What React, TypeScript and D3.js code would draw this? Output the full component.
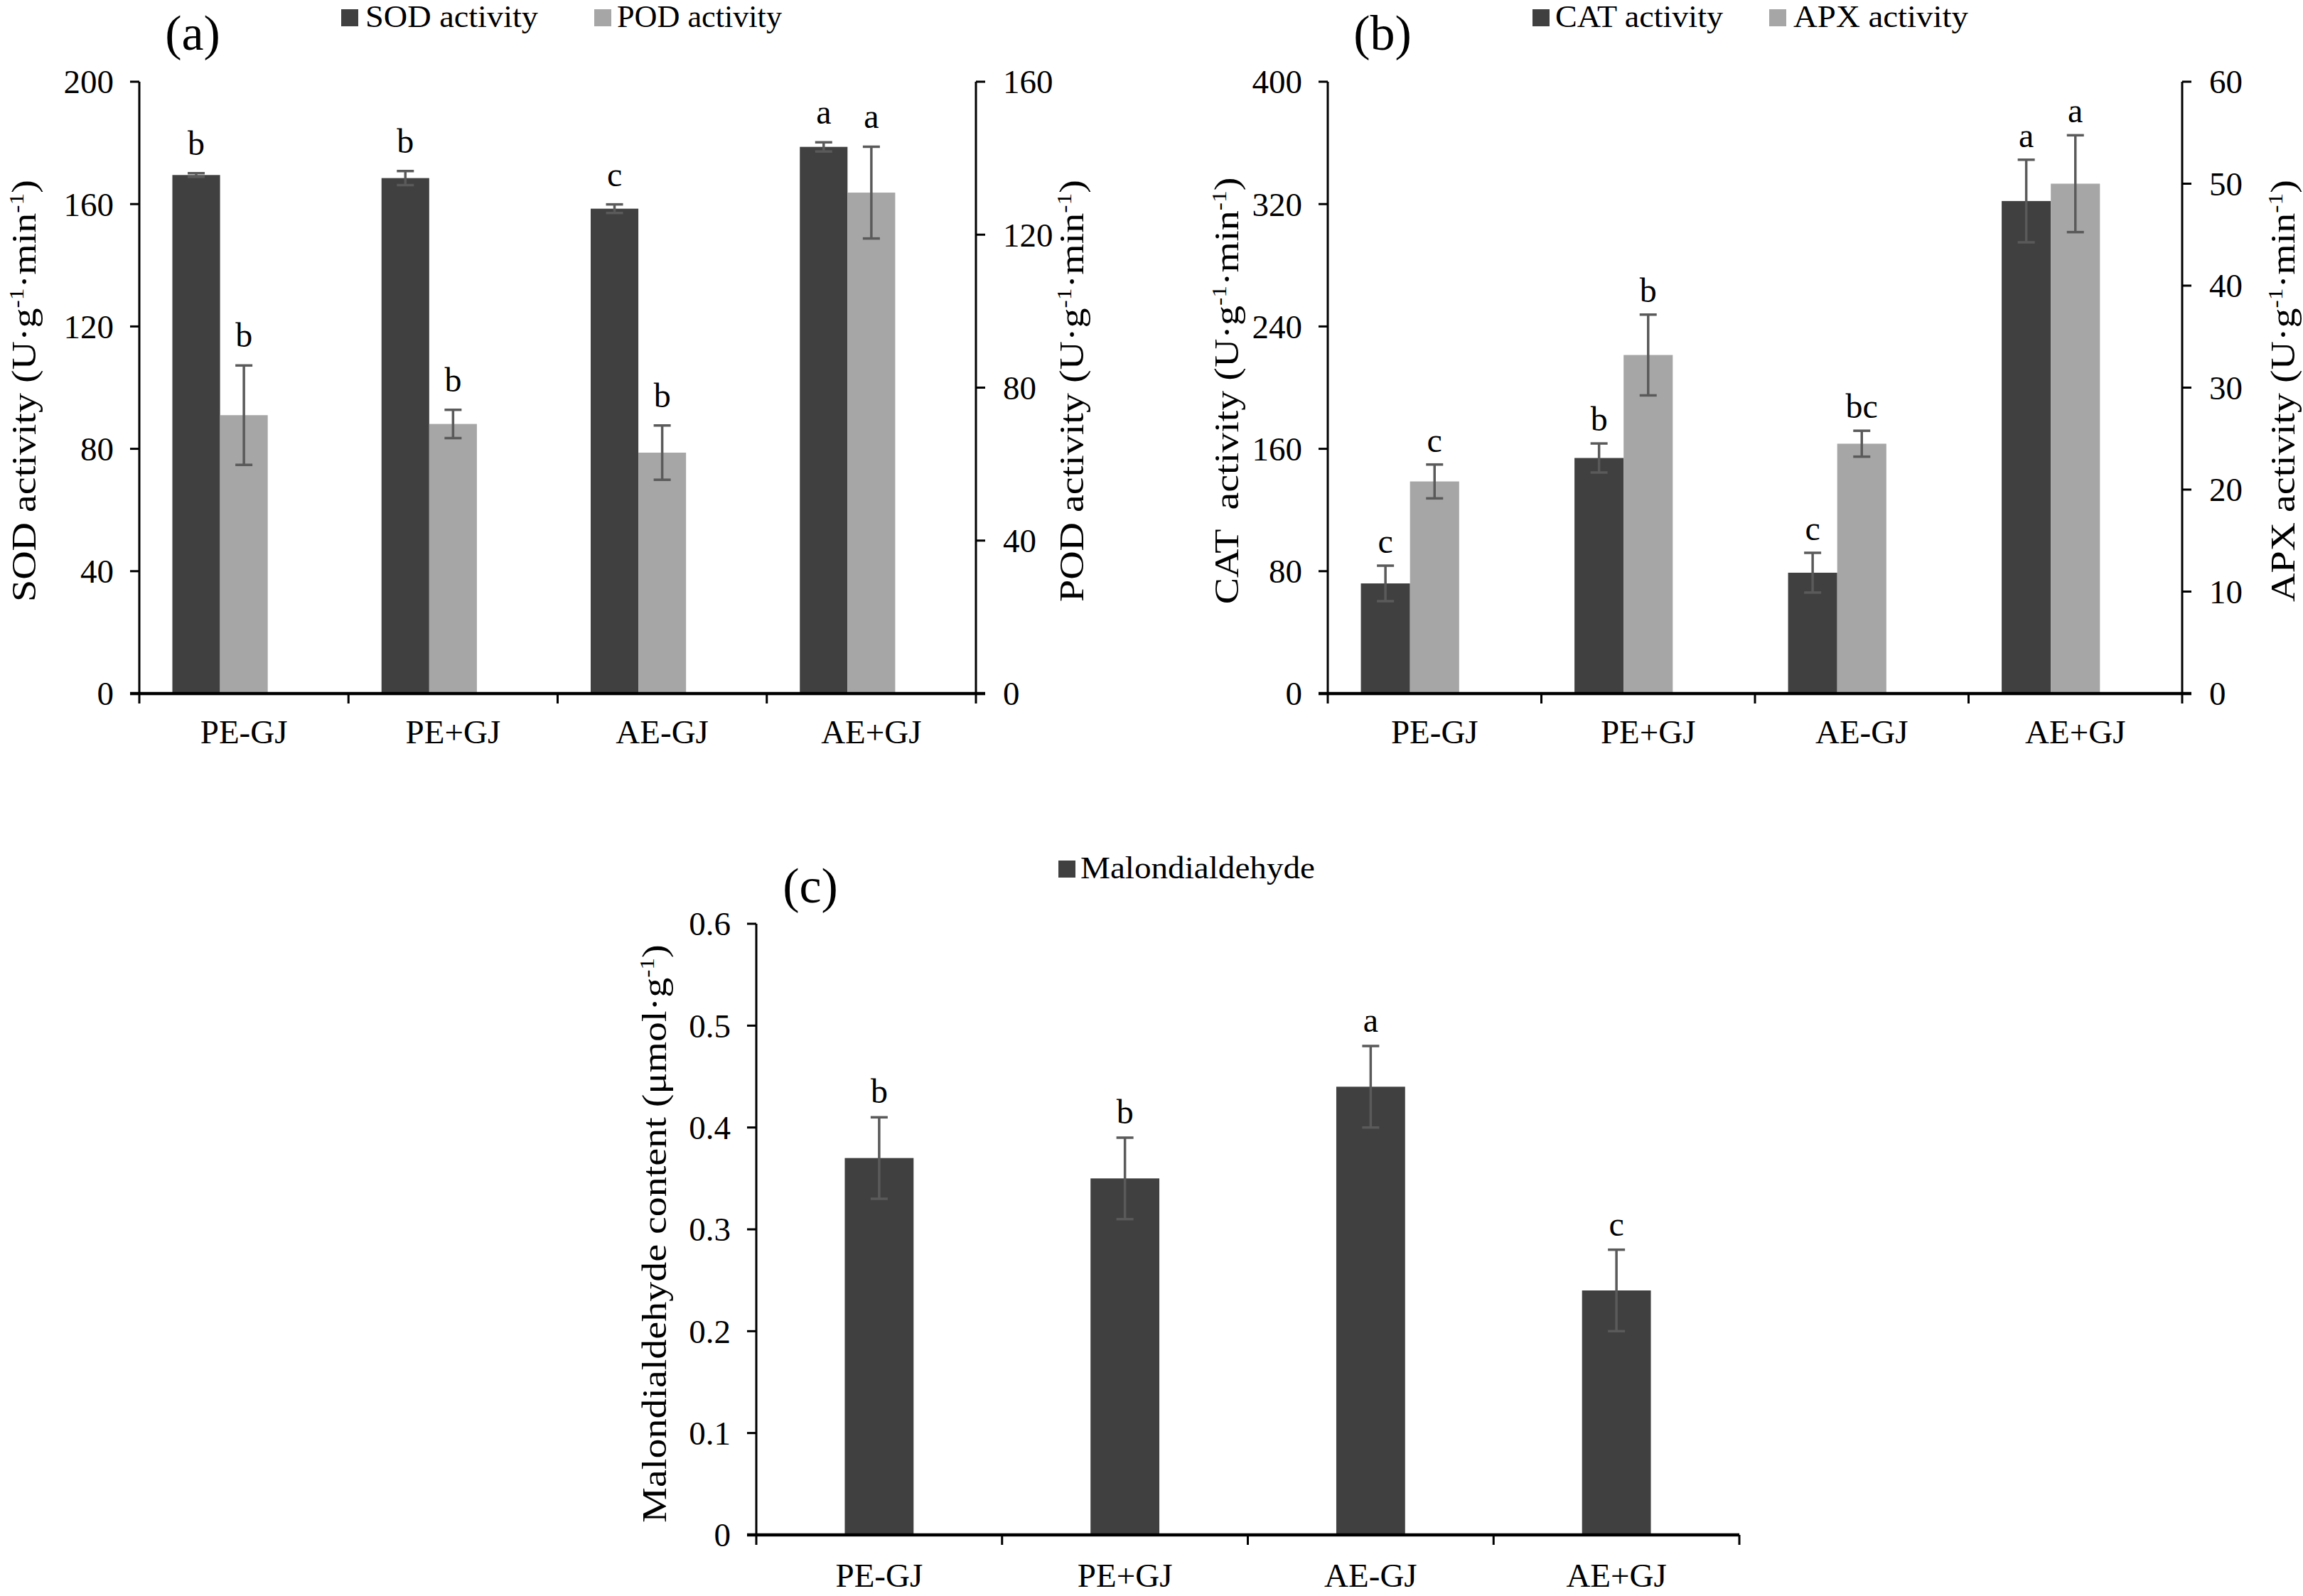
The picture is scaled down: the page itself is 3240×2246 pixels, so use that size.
import React from "react";
import * as d3 from "d3";

// ---------- data ----------
const categories = ["PE-GJ", "PE+GJ", "AE-GJ", "AE+GJ"];

const sodValues = [169.5, 168.5, 158.5, 178.7];
const sodErrors = [0.6, 2.3, 1.4, 1.5];
const sodLetters = ["b", "b", "c", "a"];

const podValues = [72.8, 70.5, 63.0, 131.0];
const podErrors = [13.0, 3.7, 7.1, 12.0];
const podLetters = ["b", "b", "b", "a"];

const catValues = [72, 154, 79, 322];
const catErrors = [11.6, 9.5, 13, 27];
const catLetters = ["c", "b", "c", "a"];

const apxValues = [20.8, 33.2, 24.5, 50.0];
const apxErrors = [1.66, 3.96, 1.27, 4.75];
const apxLetters = ["c", "b", "bc", "a"];

const mdaValues = [0.37, 0.35, 0.44, 0.24];
const mdaErrors = [0.04, 0.04, 0.04, 0.04];
const mdaLetters = ["b", "b", "a", "c"];

const sodTicks = [0, 40, 80, 120, 160, 200];
const podTicks = [0, 40, 80, 120, 160];
const catTicks = [0, 80, 160, 240, 320, 400];
const apxTicks = [0, 10, 20, 30, 40, 50, 60];
const mdaTicks = [0, 0.1, 0.2, 0.3, 0.4, 0.5, 0.6];

// ---------- styles ----------
const FONT = "'Liberation Serif','Times New Roman',serif";
const DARK = "#404040";
const LIGHT = "#a6a6a6";
const ERR = "#5a5a5a";

type Seg = [string, boolean];

function unitTitle(segs: Seg[], fs: number) {
  const out: any[] = [];
  let up = false;
  segs.forEach(([t, sup], i) => {
    let dy = 0;
    if (sup && !up) { dy = -fs * 0.36; up = true; }
    else if (!sup && up) { dy = fs * 0.36; up = false; }
    out.push(
      <tspan key={i} dy={dy} fontSize={sup ? fs * 0.6 : fs}>{t}</tspan>
    );
  });
  return out;
}

type SeriesCfg = {
  values: number[];
  errors: number[];
  letters: string[];
  color: string;
  axis: "left" | "right";
  slot: number;
};

type PanelCfg = {
  x0: number; x1: number; yTop: number; yZero: number;
  leftDomain: [number, number]; leftTicks: number[]; leftFmt: (v: number) => string;
  rightDomain?: [number, number]; rightTicks?: number[];
  barFrac: number;
  series: SeriesCfg[];
  leftTitle: Seg[]; leftTitleX: number; titleY: number;
  rightTitle?: Seg[]; rightTitleX?: number;
  label: string; labelX: number; labelY: number;
  legend: { name: string; color: string; sx: number; tx: number; tw: number }[];
  legendY: number;
  catLabelDy: number;
  letterGap: number;
};

function Panel({ c }: { c: PanelCfg }) {
  const x = d3.scaleBand<string>().domain(categories).range([c.x0, c.x1]).padding(0);
  const yL = d3.scaleLinear().domain(c.leftDomain).range([c.yZero, c.yTop]);
  const yR = c.rightDomain ? d3.scaleLinear().domain(c.rightDomain).range([c.yZero, c.yTop]) : null;
  const bw = x.bandwidth() * c.barFrac;
  const tickFs = 47;
  const titleFs = 56;
  const boundaries = categories.map((d) => x(d) as number).concat([c.x1]);
  return (
    <g>
      {c.series.map((s, si) => {
        const y = s.axis === "left" ? yL : (yR as any);
        return (
          <g key={"s" + si}>
            {s.values.map((v, i) => {
              const cx = (x(categories[i]) as number) + x.bandwidth() / 2;
              const bx = cx + s.slot * bw;
              return (
                <rect key={i} x={bx} y={y(v)} width={bw} height={c.yZero - y(v)} fill={s.color} />
              );
            })}
          </g>
        );
      })}
      {c.series.map((s, si) => {
        const y = s.axis === "left" ? yL : (yR as any);
        return (
          <g key={"e" + si}>
            {s.values.map((v, i) => {
              const cx = (x(categories[i]) as number) + x.bandwidth() / 2;
              const mx = cx + (s.slot + 0.5) * bw;
              const hi = y(v + s.errors[i]);
              const lo = y(v - s.errors[i]);
              return (
                <g key={i}>
                  <line x1={mx} x2={mx} y1={hi} y2={lo} stroke={ERR} strokeWidth={3.5} />
                  <line x1={mx - 12} x2={mx + 12} y1={hi} y2={hi} stroke={ERR} strokeWidth={3.5} />
                  <line x1={mx - 12} x2={mx + 12} y1={lo} y2={lo} stroke={ERR} strokeWidth={3.5} />
                  <text x={mx} y={hi - c.letterGap} textAnchor="middle" fontSize={48} fontFamily={FONT} fill="#000">
                    {s.letters[i]}
                  </text>
                </g>
              );
            })}
          </g>
        );
      })}
      <line x1={c.x0} x2={c.x0} y1={c.yTop} y2={c.yZero} stroke="#000" strokeWidth={3} />
      {c.leftTicks.map((t) => (
        <g key={"lt" + t}>
          <line x1={c.x0 - 13} x2={c.x0} y1={yL(t)} y2={yL(t)} stroke="#000" strokeWidth={3} />
          <text x={c.x0 - 36} y={yL(t)} dy="0.35em" textAnchor="end" fontSize={tickFs} fontFamily={FONT}>
            {c.leftFmt(t)}
          </text>
        </g>
      ))}
      {yR && c.rightTicks && (
        <g>
          <line x1={c.x1} x2={c.x1} y1={c.yTop} y2={c.yZero} stroke="#000" strokeWidth={3} />
          {c.rightTicks.map((t) => (
            <g key={"rt" + t}>
              <line x1={c.x1} x2={c.x1 + 13} y1={yR(t)} y2={yR(t)} stroke="#000" strokeWidth={3} />
              <text x={c.x1 + 38} y={yR(t)} dy="0.35em" textAnchor="start" fontSize={tickFs} fontFamily={FONT}>
                {t}
              </text>
            </g>
          ))}
        </g>
      )}
      <line x1={c.x0 - 13} x2={c.rightDomain ? c.x1 + 13 : c.x1} y1={c.yZero} y2={c.yZero} stroke="#000" strokeWidth={4.5} />
      {boundaries.map((b, i) => (
        <line key={"xb" + i} x1={b} x2={b} y1={c.yZero} y2={c.yZero + 14} stroke="#000" strokeWidth={3} />
      ))}
      {categories.map((d) => (
        <text key={d} x={(x(d) as number) + x.bandwidth() / 2} y={c.yZero + c.catLabelDy} textAnchor="middle" fontSize={47} fontFamily={FONT}>
          {d}
        </text>
      ))}
      <text transform={`translate(${c.leftTitleX},${c.titleY}) scale(0.85,1) rotate(-90)`} textAnchor="middle" fontSize={titleFs} fontFamily={FONT} style={{ whiteSpace: "pre" }}>
        {unitTitle(c.leftTitle, titleFs)}
      </text>
      {c.rightTitle && (
        <text transform={`translate(${c.rightTitleX},${c.titleY}) scale(0.85,1) rotate(-90)`} textAnchor="middle" fontSize={titleFs} fontFamily={FONT} style={{ whiteSpace: "pre" }}>
          {unitTitle(c.rightTitle, titleFs)}
        </text>
      )}
      <text x={c.labelX} y={c.labelY} textAnchor="middle" fontSize={70} fontFamily={FONT}>{c.label}</text>
      {c.legend.map((l) => (
        <g key={l.name}>
          <rect x={l.sx} y={c.legendY - 25} width={24} height={24} fill={l.color} />
          <text x={l.tx} y={c.legendY} fontSize={44} fontFamily={FONT} textLength={l.tw} lengthAdjust="spacingAndGlyphs">
            {l.name}
          </text>
        </g>
      ))}
    </g>
  );
}

const panelA: PanelCfg = {
  x0: 196, x1: 1373, yTop: 115, yZero: 976,
  leftDomain: [0, 200], leftTicks: sodTicks, leftFmt: (v) => String(v),
  rightDomain: [0, 160], rightTicks: podTicks,
  barFrac: 0.228,
  series: [
    { values: sodValues, errors: sodErrors, letters: sodLetters, color: DARK, axis: "left", slot: -1.5 },
    { values: podValues, errors: podErrors, letters: podLetters, color: LIGHT, axis: "right", slot: -0.5 },
  ],
  leftTitle: [["SOD activity (U·g", false], ["-1", true], ["·min", false], ["-1", true], [")", false]],
  leftTitleX: 50, titleY: 550,
  rightTitle: [["POD activity (U·g", false], ["-1", true], ["·min", false], ["-1", true], [")", false]],
  rightTitleX: 1524,
  label: "(a)", labelX: 271, labelY: 70,
  legend: [
    { name: "SOD activity", color: DARK, sx: 480, tx: 514, tw: 243 },
    { name: "POD activity", color: LIGHT, sx: 836, tx: 868, tw: 232 },
  ],
  legendY: 38,
  catLabelDy: 70,
  letterGap: 26,
};

const panelB: PanelCfg = {
  x0: 1868, x1: 3070, yTop: 115, yZero: 976,
  leftDomain: [0, 400], leftTicks: catTicks, leftFmt: (v) => String(v),
  rightDomain: [0, 60], rightTicks: apxTicks,
  barFrac: 0.23,
  series: [
    { values: catValues, errors: catErrors, letters: catLetters, color: DARK, axis: "left", slot: -1.5 },
    { values: apxValues, errors: apxErrors, letters: apxLetters, color: LIGHT, axis: "right", slot: -0.5 },
  ],
  leftTitle: [["CAT  activity (U·g", false], ["-1", true], ["·min", false], ["-1", true], [")", false]],
  leftTitleX: 1742, titleY: 550,
  rightTitle: [["APX activity (U·g", false], ["-1", true], ["·min", false], ["-1", true], [")", false]],
  rightTitleX: 3228,
  label: "(b)", labelX: 1945, labelY: 70,
  legend: [
    { name: "CAT activity", color: DARK, sx: 2156, tx: 2188, tw: 236 },
    { name: "APX activity", color: LIGHT, sx: 2489, tx: 2523, tw: 246 },
  ],
  legendY: 38,
  catLabelDy: 70,
  letterGap: 18,
};

const panelC: PanelCfg = {
  x0: 1064, x1: 2447, yTop: 1300, yZero: 2160,
  leftDomain: [0, 0.6], leftTicks: mdaTicks, leftFmt: (v) => (v === 0 ? "0" : d3.format(".1f")(v)),
  barFrac: 0.28,
  series: [
    { values: mdaValues, errors: mdaErrors, letters: mdaLetters, color: DARK, axis: "left", slot: -0.5 },
  ],
  leftTitle: [["Malondialdehyde content (μmol·g", false], ["-1", true], [")", false]],
  leftTitleX: 937, titleY: 1736,
  label: "(c)", labelX: 1140, labelY: 1270,
  legend: [{ name: "Malondialdehyde", color: DARK, sx: 1489, tx: 1520, tw: 330 }],
  legendY: 1236,
  catLabelDy: 73,
  letterGap: 20,
};

export default function App() {
  return (
    <svg
      width={3240}
      height={2246}
      viewBox="0 0 3240 2246"
      style={{ position: "absolute", left: 0, top: 0, display: "block", background: "#fff" }}
    >
      <rect x={0} y={0} width={3240} height={2246} fill="#fff" />
      <Panel c={panelA} />
      <Panel c={panelB} />
      <Panel c={panelC} />
    </svg>
  );
}
